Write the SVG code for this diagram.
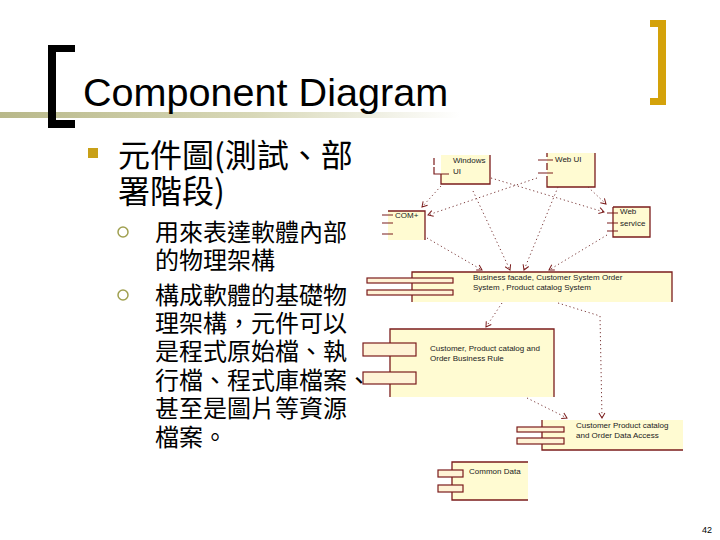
<svg xmlns="http://www.w3.org/2000/svg" width="720" height="540" viewBox="0 0 720 540">
<defs>
<linearGradient id="rule" x1="0" y1="0" x2="1" y2="0">
<stop offset="0" stop-color="#b8b88a"/>
<stop offset="0.55" stop-color="#d8d8b8"/>
<stop offset="1" stop-color="#ffffff"/>
</linearGradient>
<marker id="arr" viewBox="-6 -4 7 8" refX="0" refY="0" markerWidth="7" markerHeight="8" markerUnits="userSpaceOnUse" orient="auto">
<path d="M-5,-3 L0,0 L-5,3" fill="none" stroke="#7b1c1c" stroke-width="1"/>
</marker>
<style>
.title{font-family:"Liberation Sans",Arial,sans-serif;font-size:39.6px;fill:#000}
.cjk1{font-family:"Noto Sans CJK TC","Noto Sans CJK SC",sans-serif;font-size:32px;fill:#000}
.cjk2{font-family:"Noto Sans CJK TC","Noto Sans CJK SC",sans-serif;font-size:24px;fill:#000}
.box{fill:#fffbd2;stroke:none}
.edge{fill:none;stroke:#7b1c1c;stroke-width:1.3}
.port{fill:#fff3d6;stroke:#7b1c1c;stroke-width:1.2}
.pline{fill:none;stroke:#7b1c1c;stroke-width:1.2}
.lbl{font-family:"Liberation Sans",Arial,sans-serif;font-size:8px;fill:#222}
.dep{fill:none;stroke:#7b3a3a;stroke-width:1;stroke-dasharray:1.2 2.8;marker-end:url(#arr)}
</style>
</defs>
<rect width="720" height="540" fill="#ffffff"/>

<!-- header -->
<rect x="0" y="112" width="460" height="6" fill="url(#rule)"/>
<path d="M75,45 H48 V128 H75 V120 H56 V52 H75 Z" fill="#000"/>
<path d="M650,20 H666 V105 H650 V98 H658 V27 H650 Z" fill="#d4a20a"/>
<text class="title" x="83" y="106">Component Diagram</text>

<!-- bullets -->
<rect x="88" y="148" width="10" height="10" fill="#c8a018"/>
<text class="cjk1"><tspan x="118" y="167">元件圖(測試、部</tspan><tspan x="118" y="203">署階段)</tspan></text>
<circle cx="123" cy="232" r="5" fill="none" stroke="#a0a050" stroke-width="1.5"/>
<circle cx="123" cy="295" r="5" fill="none" stroke="#a0a050" stroke-width="1.5"/>
<text class="cjk2"><tspan x="155" y="241">用來表達軟體內部</tspan><tspan x="155" y="269">的物理架構</tspan></text>
<text class="cjk2"><tspan x="155" y="304">構成軟體的基礎物</tspan><tspan x="155" y="332">理架構，元件可以</tspan><tspan x="155" y="360">是程式原始檔、執</tspan><tspan x="155" y="389">行檔、程式庫檔案、</tspan><tspan x="155" y="417">甚至是圖片等資源</tspan><tspan x="155" y="446">檔案。</tspan></text>

<!-- components -->
<g id="windows-ui">
<rect class="box" x="441" y="155" width="49" height="29"/>
<path class="edge" d="M441,174 V184 H490 V155"/>
<path class="pline" d="M434,158 V165 M434,167 V174 H449"/>
<text class="lbl"><tspan x="453" y="163">Windows</tspan><tspan x="453" y="174">UI</tspan></text>
</g>
<g id="web-ui">
<rect class="box" x="547" y="153" width="48" height="34"/>
<path class="edge" d="M547,153 V157 M547,163 V170 M547,176 V187 H595 V153"/>
<path class="pline" d="M538,160 H553 M538,173 H553"/>
<text class="lbl" x="555" y="162">Web UI</text>
</g>
<g id="com-plus">
<rect class="box" x="388" y="211" width="37" height="29"/>
<path class="edge" d="M388,211 H425 V240"/>
<path class="pline" d="M382,215 H393 M382,223 H393 M382,234 H393"/>
<text class="lbl" x="395" y="218">COM+</text>
</g>
<g id="web-service">
<rect class="box" x="613" y="207" width="37" height="30"/>
<path class="edge" d="M613,207 H650 V237 H613 V207"/>
<path class="pline" d="M607,213 H618 M607,223 H618 M607,231 H618"/>
<text class="lbl"><tspan x="620" y="214">Web</tspan><tspan x="620" y="226">service</tspan></text>
</g>
<g id="business-facade">
<rect class="box" x="412" y="272" width="260" height="30"/>
<path class="edge" d="M412,302 V272 H672 V302"/>
<rect class="port" x="367" y="278" width="86" height="5"/>
<rect class="port" x="367" y="290" width="86" height="5"/>
<text class="lbl"><tspan x="473" y="280">Business facade, Customer System Order</tspan><tspan x="473" y="290">System , Product catalog System</tspan></text>
</g>
<g id="business-rule">
<rect class="box" x="390" y="329" width="164" height="68"/>
<path class="edge" d="M390,397 V329 H554 V397"/>
<rect class="port" x="363" y="343" width="53" height="13"/>
<rect class="port" x="363" y="372" width="53" height="12"/>
<text class="lbl"><tspan x="430" y="351">Customer, Product catalog and</tspan><tspan x="430" y="361">Order Business Rule</tspan></text>
</g>
<g id="data-access">
<rect class="box" x="542" y="420" width="141" height="30"/>
<path class="edge" d="M542,420 V450 H683"/>
<rect class="port" x="517" y="427" width="47" height="5"/>
<rect class="port" x="517" y="438" width="47" height="6"/>
<text class="lbl"><tspan x="576" y="428">Customer Product catalog</tspan><tspan x="576" y="438">and Order Data Access</tspan></text>
</g>
<g id="common-data">
<rect class="box" x="452" y="462" width="76" height="38"/>
<path class="edge" d="M528,462 H452 V500 H528"/>
<rect class="port" x="438" y="470" width="25" height="7"/>
<rect class="port" x="438" y="485" width="25" height="7"/>
<text class="lbl" x="469" y="474">Common Data</text>
</g>

<!-- connectors -->
<g id="connectors">
<path class="dep" d="M441,186 L422,207"/>
<path class="dep" d="M537,178 L428,215"/>
<path class="dep" d="M491,178 L604,212"/>
<path class="dep" d="M588,187 L606,204"/>
<path class="dep" d="M473,191 L510,270"/>
<path class="dep" d="M558,187 L524,270"/>
<path class="dep" d="M427,238 L482,270"/>
<path class="dep" d="M607,235 L549,270"/>
<path class="dep" d="M502,303 L486,327"/>
<path class="dep" d="M558,303 L600,316 L602,418"/>
<path class="dep" d="M527,398 L567,418"/>
</g>

<text x="712" y="533" text-anchor="end" font-family="Liberation Sans, Arial, sans-serif" font-size="9" fill="#000">42</text>
</svg>
